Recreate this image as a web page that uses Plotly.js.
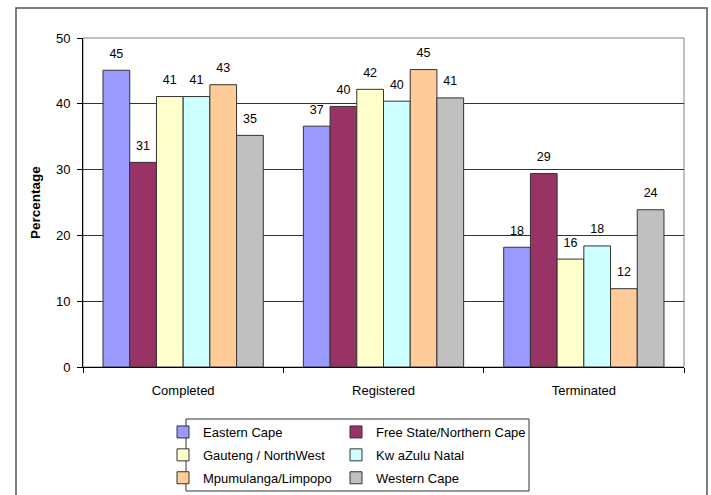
<!DOCTYPE html>
<html>
<head>
<meta charset="utf-8">
<script src="https://cdn.plot.ly/plotly-3.0.1.min.js"></script>
<style>html,body{margin:0;padding:0;background:#fff;}#chart{width:711px;height:495px;}</style>
</head>
<body>
<div id="chart"></div>
<script>
var categories = ["Completed", "Registered", "Terminated"];
var seriesNames = ["Eastern Cape", "Free State/Northern Cape", "Gauteng / NorthWest", "Kw aZulu Natal", "Mpumulanga/Limpopo", "Western Cape"];
var easternCape = [45.1, 36.6, 18.2];
var freeState = [31.1, 39.6, 29.4];
var gauteng = [41.1, 42.2, 16.4];
var kwazulu = [41.1, 40.4, 18.4];
var mpumulanga = [42.9, 45.2, 11.9];
var westernCape = [35.2, 40.9, 23.9];
var seriesValues = [easternCape, freeState, gauteng, kwazulu, mpumulanga, westernCape];
var seriesColors = ["#9999FF", "#993366", "#FFFFCC", "#CCFFFF", "#FFCC99", "#C0C0C0"];
var legendFor = ["legend", "legend2", "legend", "legend2", "legend", "legend2"];
var yTicks = [0, 10, 20, 30, 40, 50];

var FONT = '"Liberation Sans", Arial, sans-serif';

var traces = seriesNames.map(function (name, i) {
  return {
    type: "bar",
    name: name,
    x: categories,
    y: seriesValues[i],
    legend: legendFor[i],
    legendgroup: "g" + i,
    marker: { color: seriesColors[i], line: { color: "#333333", width: 1 } },
    texttemplate: '<span style="font-size:12.5px">%{y:.0f}</span><br>\u00A0',
    textposition: "outside",
    cliponaxis: false,
    constraintext: "none",
    textfont: { family: FONT, size: 6.5, color: "#000" },
    hoverinfo: "name+y"
  };
});

function px2x(p) { return (p - 83) / 601; }
function px2y(p) { return (367 - p) / 329; }
function cy(p) { return (495 - p) / 495; }

var layout = {
  width: 711,
  height: 495,
  margin: { l: 83, r: 27, t: 38, b: 128, pad: 0 },
  paper_bgcolor: "#fff",
  plot_bgcolor: "#fff",
  font: { family: FONT, color: "#000", size: 13 },
  barmode: "group",
  bargap: 0.2,
  bargroupgap: 0,
  showlegend: true,
  xaxis: {
    type: "category",
    ticks: "outside",
    tickson: "boundaries",
    ticklen: 5,
    tickcolor: "#000",
    showline: true,
    linecolor: "#000",
    linewidth: 1,
    showgrid: false,
    tickfont: { family: FONT, size: 13, color: "#000" },
    ticklabelstandoff: 11,
    fixedrange: true
  },
  yaxis: {
    range: [0, 50],
    tickvals: yTicks,
    ticks: "outside",
    ticklen: 5,
    tickcolor: "#000",
    showline: true,
    linecolor: "#000",
    linewidth: 1,
    showgrid: true,
    gridcolor: "#333333",
    gridwidth: 1,
    zeroline: false,
    tickfont: { family: FONT, size: 13, color: "#000" },
    ticklabelstandoff: 4,
    title: { text: "Percentage", font: { family: FONT, size: 13.5, weight: "bold", color: "#000" }, standoff: 12 },
    fixedrange: true
  },
  legend: {
    xref: "paper", yref: "container",
    x: px2x(163), xanchor: "left",
    y: cy(417), yanchor: "top",
    orientation: "v",
    traceorder: "grouped",
    tracegroupgap: 3,
    bgcolor: "rgba(0,0,0,0)",
    borderwidth: 0,
    font: { family: FONT, size: 13, color: "#000" }
  },
  legend2: {
    xref: "paper", yref: "container",
    x: px2x(336), xanchor: "left",
    y: cy(417), yanchor: "top",
    orientation: "v",
    traceorder: "grouped",
    tracegroupgap: 3,
    bgcolor: "rgba(0,0,0,0)",
    borderwidth: 0,
    font: { family: FONT, size: 13, color: "#000" }
  },
  shapes: [
    { type: "rect", xref: "paper", yref: "paper", x0: 0, x1: 1, y0: 0, y1: 1, line: { color: "#808080", width: 1 }, layer: "below" },
    { type: "rect", xref: "paper", yref: "paper", x0: px2x(186), x1: px2x(529), y0: px2y(491), y1: px2y(419), line: { color: "#333333", width: 1 } },
    { type: "rect", xref: "paper", yref: "paper", x0: px2x(16), x1: px2x(707), y0: px2y(520), y1: px2y(8), line: { color: "#555555", width: 1.5 } }
  ]
};

Plotly.newPlot("chart", traces, layout, { displayModeBar: false, staticPlot: true });
</script>
</body>
</html>
